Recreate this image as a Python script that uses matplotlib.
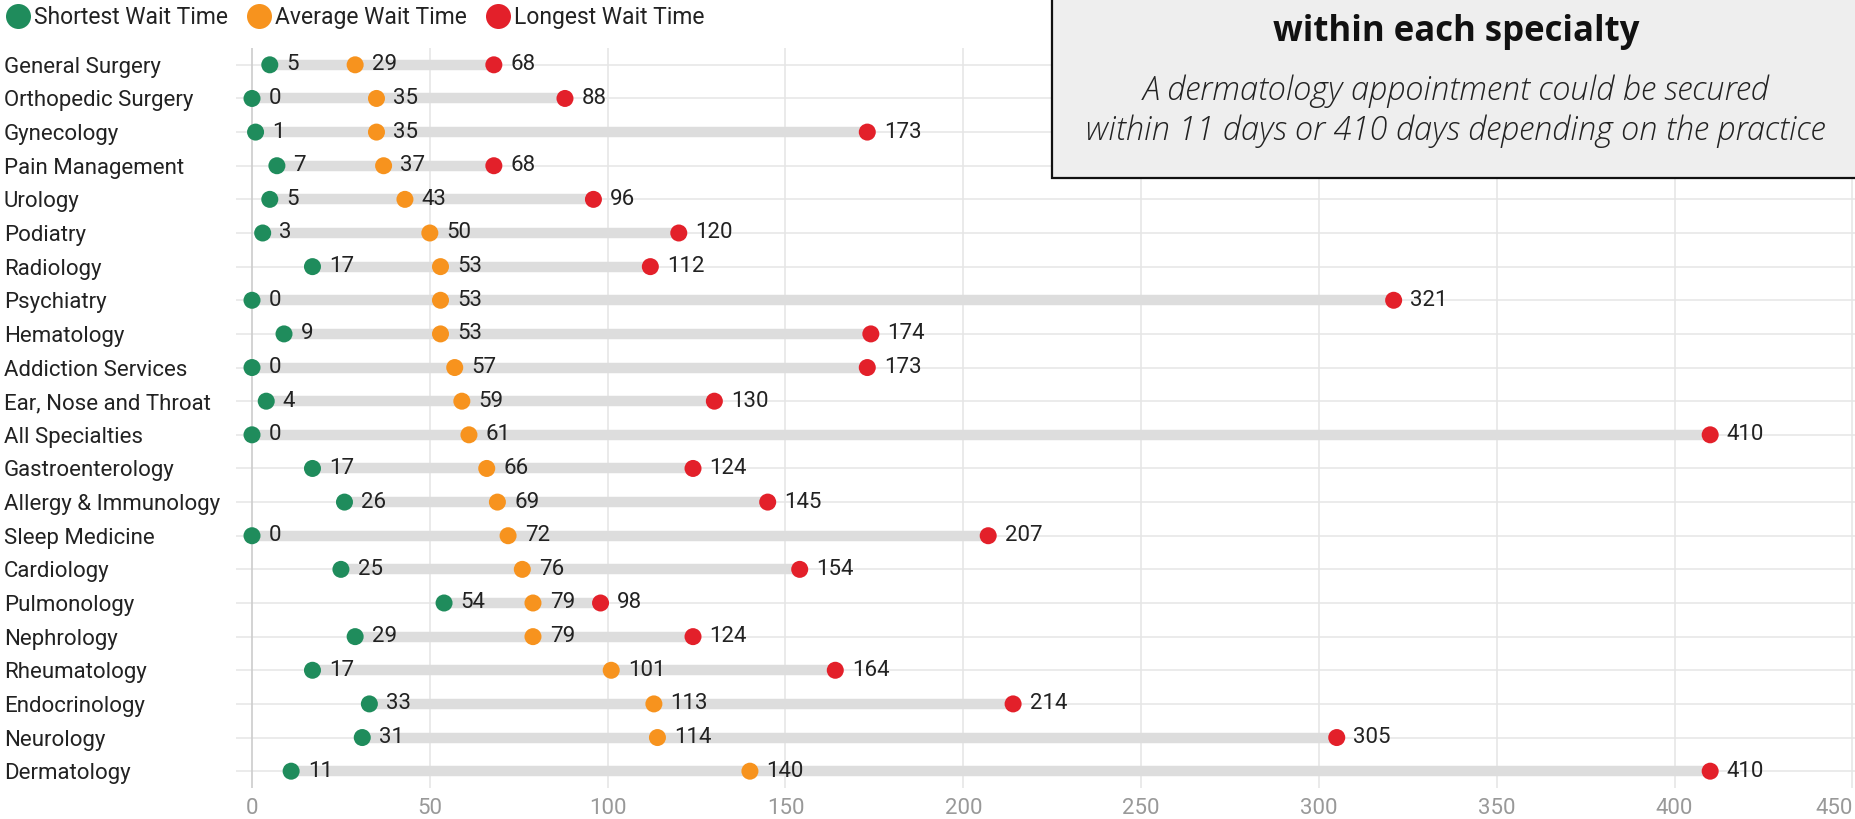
import numpy as np
import matplotlib
matplotlib.use("Agg")
import matplotlib.pyplot as plt
from matplotlib.lines import Line2D
from matplotlib.patches import Rectangle

plt.rcParams['font.family'] = ['Roboto', 'DejaVu Sans']

specialties = ["General Surgery", "Orthopedic Surgery", "Gynecology", "Pain Management",
               "Urology", "Podiatry", "Radiology", "Psychiatry", "Hematology",
               "Addiction Services", "Ear, Nose and Throat", "All Specialties",
               "Gastroenterology", "Allergy & Immunology", "Sleep Medicine", "Cardiology",
               "Pulmonology", "Nephrology", "Rheumatology", "Endocrinology", "Neurology",
               "Dermatology"]
shortest = [5, 0, 1, 7, 5, 3, 17, 0, 9, 0, 4, 0, 17, 26, 0, 25, 54, 29, 17, 33, 31, 11]
average = [29, 35, 35, 37, 43, 50, 53, 53, 53, 57, 59, 61, 66, 69, 72, 76, 79, 79, 101, 113, 114, 140]
longest = [68, 88, 173, 68, 96, 120, 112, 321, 174, 173, 130, 410, 124, 145, 207, 154, 98, 124, 164, 214, 305, 410]
xticks = [0, 50, 100, 150, 200, 250, 300, 350, 400, 450]

series = [("Shortest Wait Time", shortest, "#1f8c5c"),
          ("Average Wait Time", average, "#f7931e"),
          ("Longest Wait Time", longest, "#e3202a")]

W, H = 1856, 819
fig = plt.figure(figsize=(W / 100, H / 100), dpi=100)
ax = fig.add_axes([236 / W, 1 - 788 / H, 1620 / W, (788 - 48) / H])

y = np.arange(len(specialties))
ax.set_ylim(len(specialties) - 0.5, -0.5)
ax.set_xlim(-4.5, 451)

# grid
for yy in y:
    ax.axhline(yy, color="#e8e8e8", lw=1.2, zorder=0)
for xt in xticks:
    ax.axvline(xt, color="#cccccc" if xt == 0 else "#e6e6e6", lw=1.2, zorder=0)

# range bars
ax.hlines(y, shortest, longest, color="#dddddd", lw=7.5, zorder=1)

for name, vals, col in series:
    ax.scatter(vals, y, s=150, color=col, zorder=3, edgecolors="none")
    for v, yy in zip(vals, y):
        ax.annotate(str(v), (v, yy), xytext=(12, 0), textcoords="offset points",
                    va="center", ha="left", fontsize=16, color="#222222", zorder=4)

ax.set_xticks(xticks)
ax.set_xticklabels([str(t) for t in xticks], fontsize=16, color="#999999")
ax.get_xticklabels()[-1].set_ha("right")
ax.set_yticks(y)
ax.set_yticklabels(specialties, fontsize=16, color="#222222", ha="left")
ax.tick_params(axis="y", length=0, pad=(236 - 4) * 0.72)
ax.tick_params(axis="x", length=0, pad=7)
for s in ax.spines.values():
    s.set_visible(False)

# legend
handles = [Line2D([], [], marker="o", ls="", markersize=18, color=c, markeredgewidth=0)
           for _, _, c in series]
fig.legend(handles, [n for n, _, _ in series], loc="upper left", bbox_to_anchor=(-0.008, 1.018),
           ncol=3, frameon=False, fontsize=16.5, handletextpad=0.15, columnspacing=0.8,
           handlelength=1.1, labelcolor="#222222")

# annotation box
fig.patches.append(Rectangle((1052 / W, 1 - 178 / H), 1, 1, transform=fig.transFigure,
                             facecolor="#eeeeee", edgecolor="#111111", lw=1.6, zorder=5))
fig.text(1456 / W, 1 - 32 / H, "within each specialty", ha="center", va="center",
         fontsize=25, fontweight="bold", family=["Open Sans", "DejaVu Sans"],
         color="#111111", zorder=6)
fig.text(1456 / W, 1 - 91 / H, "A dermatology appointment could be secured",
         ha="center", va="center", fontsize=23.5, style="italic", fontweight="light",
         family=["Open Sans", "DejaVu Sans"], color="#222222", zorder=6)
fig.text(1456 / W, 1 - 131 / H, "within 11 days or 410 days depending on the practice",
         ha="center", va="center", fontsize=23.5, style="italic", fontweight="light",
         family=["Open Sans", "DejaVu Sans"], color="#222222", zorder=6)

fig.savefig("out.png", dpi=100)
